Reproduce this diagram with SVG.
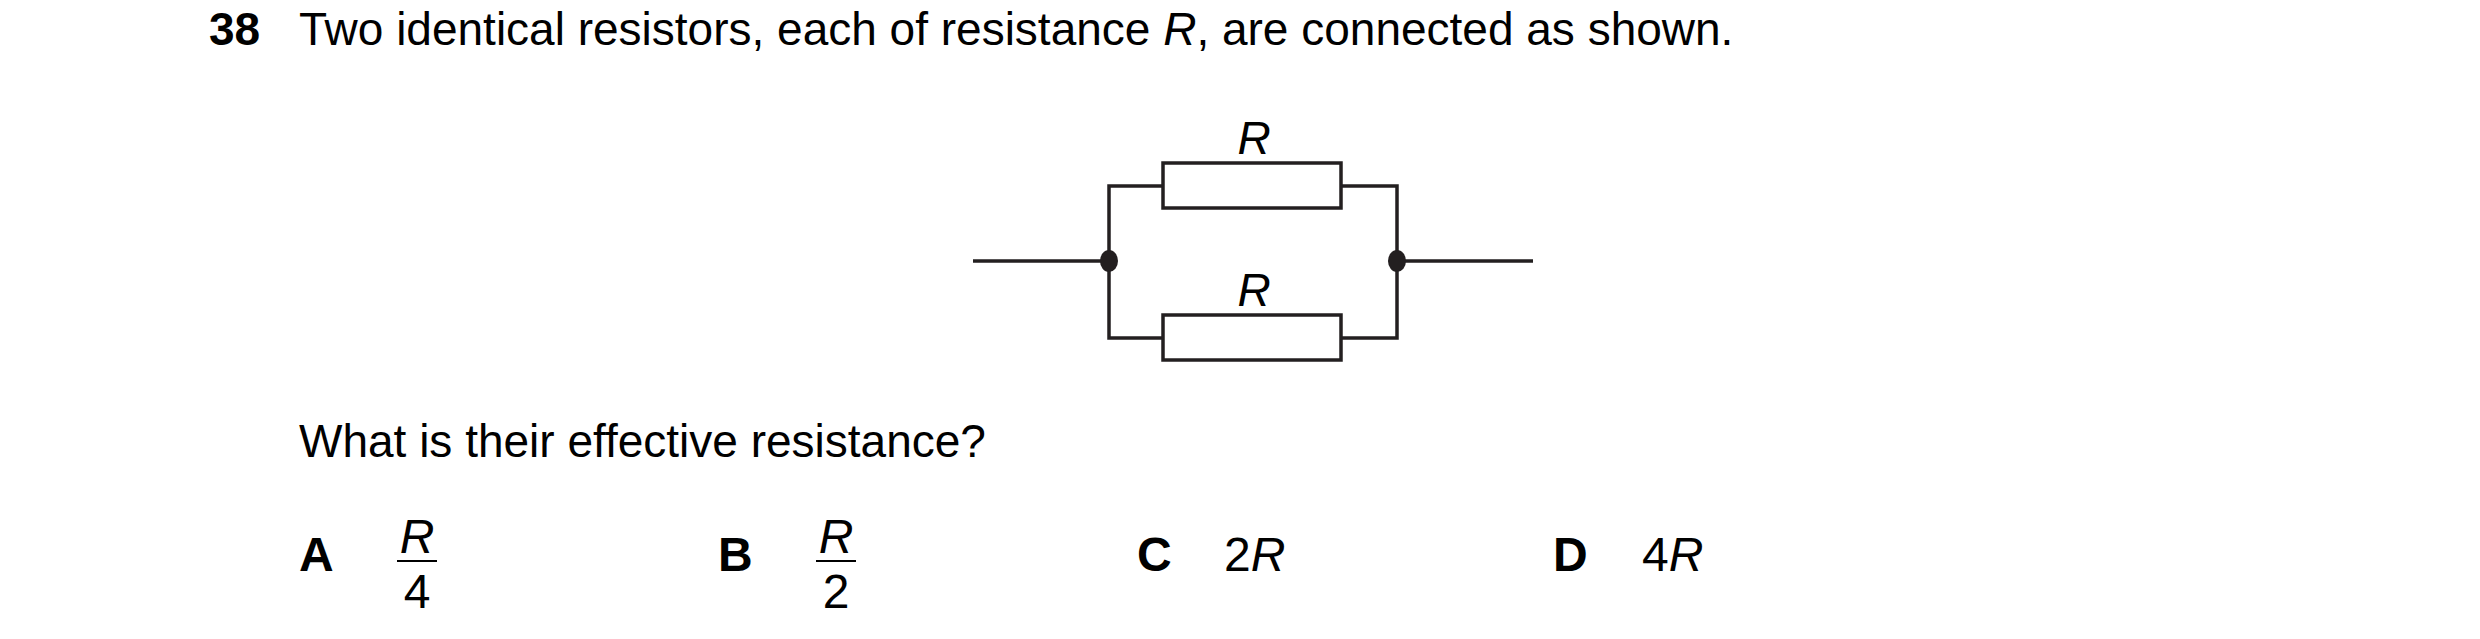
<svg xmlns="http://www.w3.org/2000/svg" width="2480" height="639" viewBox="0 0 2480 639">
<style>
text{font-family:"Liberation Sans",Arial,sans-serif;font-size:46px;fill:#000}
.o{font-size:48px}
.b{font-weight:bold}
.i{font-style:italic}
.w{stroke:#231f20;stroke-width:3.5;fill:none}
</style>
<rect width="2480" height="639" fill="#fff"/>
<text class="b" x="209" y="45">38</text>
<text x="299" y="45">Two identical resistors, each of resistance <tspan class="i">R</tspan>, are connected as shown.</text>
<g id="connectors">
<path class="w" d="M973 261H1109M1397 261H1533M1109 261V186H1163M1341 186H1397V261M1109 261V338H1163M1341 338H1397V261"/>
</g>
<g id="R1"><rect class="w" x="1163" y="163" width="178" height="45"/><text class="i" x="1254" y="154" text-anchor="middle">R</text></g>
<g id="R2"><rect class="w" x="1163" y="315" width="178" height="45"/><text class="i" x="1254" y="306" text-anchor="middle">R</text></g>
<g id="J1"><ellipse cx="1109" cy="261" rx="9" ry="11" fill="#231f20"/></g>
<g id="J2"><ellipse cx="1397" cy="261" rx="9" ry="11" fill="#231f20"/></g>
<text x="299" y="457">What is their effective resistance?</text>
<text class="b o" x="299" y="571">A</text>
<text class="i o" x="417" y="553" text-anchor="middle">R</text>
<line x1="397" y1="561" x2="437" y2="561" stroke="#000" stroke-width="2"/>
<text class="o" x="417" y="608" text-anchor="middle">4</text>
<text class="b o" x="718" y="571">B</text>
<text class="i o" x="836" y="553" text-anchor="middle">R</text>
<line x1="816" y1="561" x2="856" y2="561" stroke="#000" stroke-width="2"/>
<text class="o" x="836" y="608" text-anchor="middle">2</text>
<text class="b o" x="1137" y="571">C</text>
<text class="o" x="1224" y="571">2<tspan class="i">R</tspan></text>
<text class="b o" x="1553" y="571">D</text>
<text class="o" x="1642" y="571">4<tspan class="i">R</tspan></text>
</svg>
